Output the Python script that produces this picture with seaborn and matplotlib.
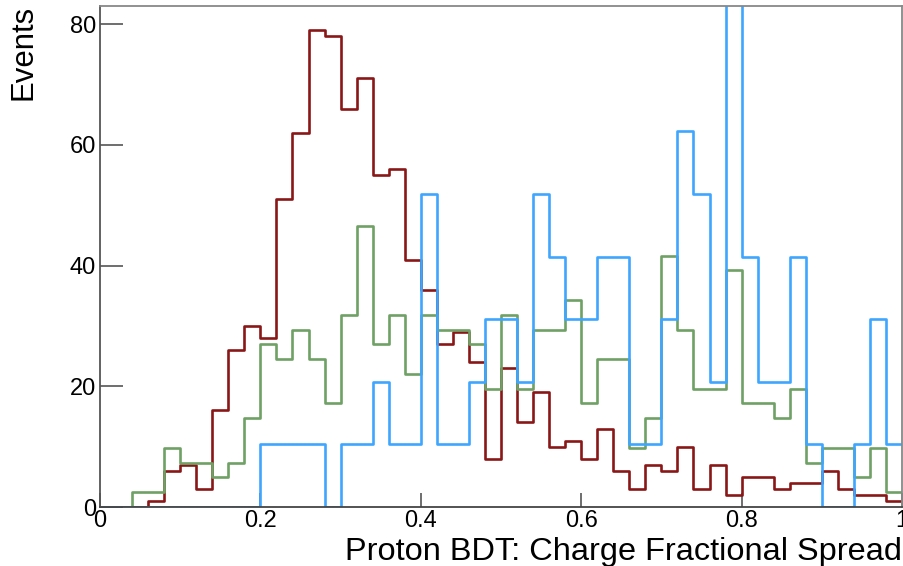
import numpy as np
import pandas as pd
import matplotlib
matplotlib.use("Agg")
import matplotlib.pyplot as plt
from matplotlib.ticker import MultipleLocator
import seaborn as sns

# ---- data (50 bins of width 0.02 from 0 to 1) ----
bin_edges = [round(0.02 * i, 2) for i in range(51)]

red_counts = [0, 0, 0, 1, 6, 7, 3, 16, 26, 30,
              28, 51, 62, 79, 78, 66, 71, 55, 56, 41,
              36, 27, 29, 24, 8, 23, 14, 19, 10, 11,
              8, 13, 6, 3, 7, 6, 10, 3, 7, 2,
              5, 5, 3, 4, 4, 6, 3, 2, 2, 1]

green_counts = [0, 0, 2.45, 2.45, 9.8, 7.35, 7.35, 4.9, 7.35, 14.7,
                26.95, 24.5, 29.4, 24.5, 17.15, 31.85, 46.55, 26.95, 31.85, 22.05,
                31.85, 29.4, 29.4, 26.95, 19.6, 31.85, 19.6, 29.4, 29.4, 34.3,
                17.15, 24.5, 24.5, 9.8, 14.7, 41.65, 29.4, 19.6, 19.6, 39.2,
                17.15, 17.15, 14.7, 19.6, 7.35, 9.8, 9.8, 4.9, 9.8, 2.45]

blue_counts = [0, 0, 0, 0, 0, 0, 0, 0, 0, 0,
               10.37, 10.37, 10.37, 10.37, 0, 10.37, 10.37, 20.74, 10.37, 10.37,
               51.85, 10.37, 10.37, 20.74, 31.11, 31.11, 20.74, 51.85, 41.48, 31.11,
               31.11, 41.48, 41.48, 10.37, 10.37, 31.11, 62.22, 51.85, 20.74, 93.33,
               41.48, 20.74, 20.74, 41.48, 10.37, 0, 0, 10.37, 31.11, 10.37]

x_label = "Proton BDT: Charge Fractional Spread"
y_label = "Events"
x_ticks = [0, 0.2, 0.4, 0.6, 0.8, 1]
x_tick_labels = ["0", "0.2", "0.4", "0.6", "0.8", "1"]
y_ticks = [0, 20, 40, 60, 80]

# ---- figure ----
sns.set_style("white")
plt.rcParams["font.family"] = ["Liberation Sans", "DejaVu Sans"]
plt.rcParams["text.color"] = "black"

fig = plt.figure(figsize=(9.04, 5.66), dpi=100)
ax = fig.add_axes([100 / 904, 1 - 507 / 566, 802 / 904, 501 / 566])

centers = [(bin_edges[i] + bin_edges[i + 1]) / 2 for i in range(len(bin_edges) - 1)]

series = [
    (red_counts, "#8a1717"),
    (green_counts, "#6fa065"),
    (blue_counts, "#3ea6ff"),
]
for counts, color in series:
    df = pd.DataFrame({"x": centers, "w": counts})
    sns.histplot(data=df, x="x", weights="w", bins=list(bin_edges), element="step",
                 fill=False, color=color, linewidth=1.9, ax=ax)

ax.set_xlim(0, 1)
ax.set_ylim(0, 83)

ax.set_xticks(x_ticks)
ax.set_xticklabels(x_tick_labels)
ax.set_yticks(y_ticks)
ax.xaxis.set_minor_locator(MultipleLocator(0.05))
ax.yaxis.set_minor_locator(MultipleLocator(5))

ax.tick_params(axis="both", which="both", direction="in", colors="#555555",
               labelcolor="black", labelsize=17)
ax.tick_params(axis="y", which="major", length=16.5, width=1.2, pad=3)
ax.tick_params(axis="y", which="minor", length=9, width=1.2)
ax.tick_params(axis="x", which="major", length=10, width=1.2, pad=2)
ax.tick_params(axis="x", which="minor", length=5, width=1.2)
ax.tick_params(left=True, bottom=True, right=False, top=False)

for s in ax.spines.values():
    s.set_visible(True)
    s.set_color("#888888")
    s.set_linewidth(1.3)
ax.spines["bottom"].set_color("#444444")
ax.spines["left"].set_color("#555555")

ax.set_xlabel("")
ax.set_ylabel("")
fig.text(902 / 904, 6 / 566, x_label, ha="right", va="baseline", fontsize=23.4,
         color="black")
fig.text(8 / 904, 1 - 5 / 566, y_label, ha="left", va="top", rotation=90,
         fontsize=22.4, color="black")

fig.savefig("out.png", dpi=100, facecolor="white")
